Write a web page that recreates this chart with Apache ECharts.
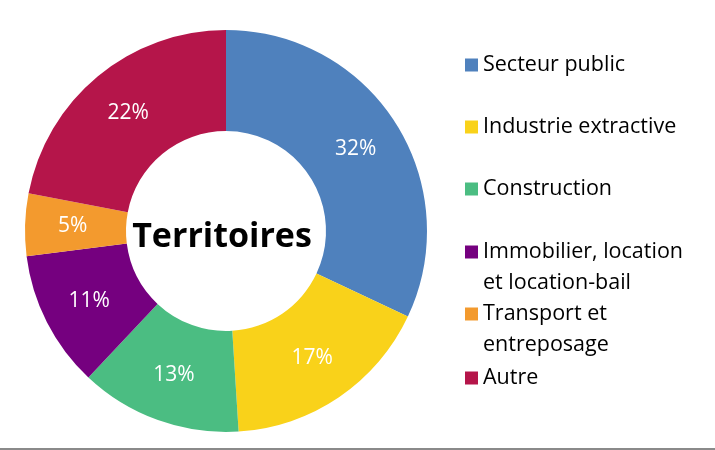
<!DOCTYPE html>
<html>
<head>
<meta charset="utf-8">
<script src="https://cdn.jsdelivr.net/npm/echarts@6/dist/echarts.min.js"></script>
<style>
html,body{margin:0;padding:0;background:#fff;}
#c{width:715px;height:450px;}
</style>
</head>
<body>
<div id="c"></div>
<script>
const categories = ['Secteur public', 'Industrie extractive', 'Construction', 'Immobilier, location et location-bail', 'Transport et entreposage', 'Autre'];
const legendLines = [['Secteur public'], ['Industrie extractive'], ['Construction'], ['Immobilier, location', 'et location-bail'], ['Transport et', 'entreposage'], ['Autre']];
const values = [32, 17, 13, 11, 5, 22];
const colors = ['#4F81BD', '#F9D21A', '#4BBD82', '#75007F', '#F39A2E', '#B5154A'];
const centerTitle = 'Territoires';

const legendCenters = [65, 127, 189, 252, 314, 378];
const LH = 31;
const legends = categories.map((name, i) => {
  const lines = legendLines[i];
  const multi = lines.length > 1;
  const top = multi ? legendCenters[i] - 46.5 : legendCenters[i] - 15.5;
  return {
    data: [name],
    orient: 'vertical',
    left: 465,
    top: top,
    padding: 0,
    itemWidth: 13,
    itemHeight: 13,
    icon: 'rect',
    selectedMode: false,
    formatter: () => multi ? ' \n' + lines.join('\n') : lines[0],
    textStyle: { fontFamily: 'Open Sans', fontSize: 21.5, color: '#000', lineHeight: LH }
  };
});

const chart = echarts.init(document.getElementById('c'), null, { renderer: 'canvas' });
chart.setOption({
  animation: false,
  color: colors,
  legend: legends,
  graphic: [
    { type: 'text', x: 222, y: 237, style: { text: centerTitle, fontFamily: 'Open Sans', fontWeight: 'bold', fontSize: 34, fill: '#000', align: 'center', verticalAlign: 'middle' }, z: 10 },
    { type: 'rect', shape: { x: 0, y: 448, width: 715, height: 2 }, style: { fill: '#8a8a8a' } }
  ],
  series: [{
    type: 'pie',
    center: [226, 231],
    radius: [100, 201],
    startAngle: 90,
    clockwise: true,
    avoidLabelOverlap: false,
    label: {
      show: true,
      position: 'inside',
      formatter: '{c}%',
      color: '#fff',
      fontFamily: 'Open Sans',
      fontSize: 21,
      textBorderWidth: 0
    },
    labelLine: { show: false },
    itemStyle: { borderWidth: 0 },
    emphasis: { disabled: true },
    data: categories.map((n, i) => ({ name: n, value: values[i] }))
  }]
});
</script>
</body>
</html>
